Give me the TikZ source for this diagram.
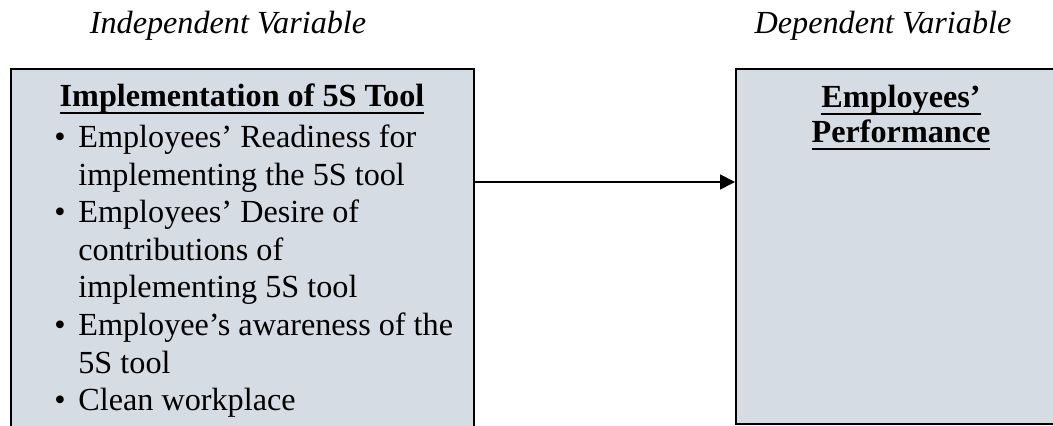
\documentclass[tikz,border=0pt]{standalone}
\usepackage{fontspec}
\setmainfont{Liberation Serif}
\usepackage{xcolor}
\usepackage{tikz}
\usetikzlibrary{positioning, arrows.meta}

\definecolor{boxfill}{HTML}{D6DCE4}
\newcommand{\headline}[1]{\setbox0\hbox{#1}\rlap{\rule[-3.5pt]{\wd0}{1pt}}\box0}
\newcommand{\itemdot}{\makebox[13pt][l]{\hspace{1pt}\textbullet}}

\begin{document}
\begin{tikzpicture}[x=0.5pt, y=-0.5pt,
    varbox/.style={rectangle, draw, fill=boxfill, line width=1.2pt, anchor=north west, inner sep=0pt},
    vartitle/.style={font=\fontsize{16.1}{17.5}\selectfont\itshape, anchor=base},
    boxhead/.style={font=\fontsize{16.1}{17.5}\selectfont\bfseries, anchor=base}]
\useasboundingbox (0,0) rectangle (1053,426);
\clip (0,0) rectangle (1053,426);

\node [vartitle] (indep) at (228,34) {Independent Variable};
\node [vartitle] (dep) at (883,34) {Dependent Variable};

\node [varbox, minimum width=231.5pt, minimum height=186pt] (A) at (10,68) {};
\node [varbox, minimum width=159pt, minimum height=177.5pt] (B) at (735,68) {};

\node [boxhead] (Ahead) at (242,107) {\headline{Implementation of 5S Tool}};
\node [anchor=north west, inner sep=0pt, font=\fontsize{16.1}{18.8}\selectfont] (Alist) at (52,120.7) {%
  \begin{tabular}{@{}l@{}l@{}}
  \itemdot & Employees’ Readiness for\\
           & implementing the 5S tool\\
  \itemdot & Employees’ Desire of\\
           & contributions of\\
           & implementing 5S tool\\
  \itemdot & Employee’s awareness of the\\
           & 5S tool\\
  \itemdot & Clean workplace
  \end{tabular}};

\node [boxhead] (Bhead) at (901,108) {\headline{Employees’}};
\node [boxhead] (Bhead2) at (901,143) {\headline{Performance}};

\draw [-{Triangle[length=7.5pt, width=7.5pt]}, line width=0.85pt] ([yshift=-57pt]A.north east) -- ([yshift=-57pt]B.north west);

\end{tikzpicture}
\end{document}
